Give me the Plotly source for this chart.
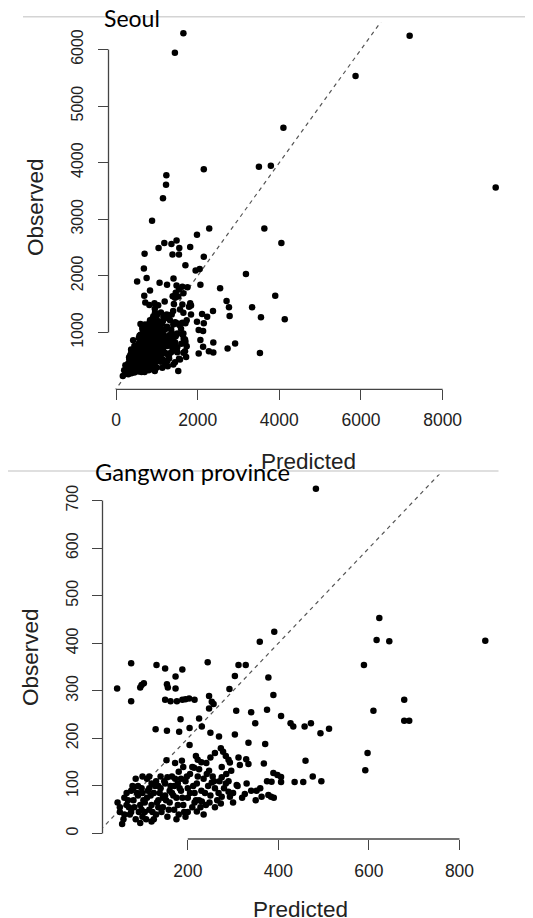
import plotly.graph_objects as go

# The page body has an 8px default margin: the figure is placed at (8, 8).
OFF = 8
W, H = 525, 910


def fx(p):
    return max(0.0, min(1.0, (p - OFF) / W))


def fy(p):
    return max(0.0, min(1.0, 1 - (p - OFF) / H))


# ---------------- Seoul (Predicted vs Observed) ----------------
seoul_pred_outer = [1650, 1442, 7192, 5867, 4100, 9300, 3500, 3792, 2150, 1233, 1225, 1150, 883, 2283, 3633,
                    4050, 1983, 1183, 1042, 1358, 1483, 1550, 1383, 1542, 1817, 700, 2150, 683, 1700, 1950,
                    2050, 750, 517, 1067, 1250, 1408, 1483, 2067, 3183, 2550, 1750, 833, 692, 3900, 2708,
                    2767, 3333, 2375, 2783, 3550, 4133, 2233, 2108, 1983, 2150, 1700, 2133, 2025, 2067, 2383,
                    2917, 2733, 2133, 2275, 2383, 2025, 3525, 1717, 1525, 167, 1650, 1700, 650, 1650, 1817,
                    1525, 1417, 1192, 942, 817, 1033, 717]
seoul_obs_outer = [6284, 5940, 6243, 5532, 4614, 3559, 3926, 3944, 3885, 3779, 3607, 3370, 2973, 2837, 2837,
                   2582, 2724, 2582, 2493, 2564, 2623, 2493, 2375, 2375, 2511, 2392, 2339, 2131, 2185, 2096,
                   2120, 1960, 1901, 1877, 1841, 1954, 1829, 1841, 2031, 1782, 1800, 1741, 1646, 1646, 1557,
                   1444, 1444, 1379, 1291, 1267, 1231, 1279, 1326, 1190, 1160, 1160, 1023, 1041, 864, 822,
                   804, 716, 745, 668, 645, 626, 638, 567, 318, 229, 982, 834, 935, 1693, 1515,
                   1634, 1503, 1545, 1515, 1486, 1480, 1527]

seoul_pred_fringe = [1241, 1364, 1159, 1323, 1404, 1511, 1592, 1625, 1657, 914, 833, 955, 710, 645, 1731,
                     1650, 1543, 1404, 1266, 1135, 1486, 1404, 1462, 1364, 1282, 1690, 1690, 1625, 1731, 1837,
                     1650, 1567, 1625, 1445, 1567, 1445, 1837, 1788, 1388, 1462, 1543, 1625]
seoul_obs_fringe = [1316, 1316, 1276, 1216, 1140, 1157, 1064, 963, 887, 1286, 1216, 1346, 1140, 1081, 756,
                    639, 533, 433, 403, 374, 710, 845, 933, 993, 922, 668, 875, 1169, 1216, 1316,
                    1346, 1405, 1493, 474, 521, 1611, 1475, 1452, 1640, 1700, 1758, 1806]

seoul_pred_core = [250, 300, 350, 400, 450, 500, 550, 600, 650, 700, 750, 800, 900, 1000, 380, 280,
                   300, 350, 400, 450, 500, 550, 600, 650, 700, 750, 800, 850, 900, 950, 1000, 1100, 1200, 1300, 420,
                   350, 400, 450, 500, 550, 600, 650, 700, 750, 800, 850, 900, 950, 1000, 1050, 1100, 1150, 1200,
                   1300, 1400, 1500, 480,
                   450, 500, 550, 600, 650, 700, 750, 800, 850, 900, 950, 1000, 1050, 1100, 1150, 1200, 1250,
                   1300, 1400, 1500, 1600, 600,
                   560, 600, 650, 700, 750, 800, 850, 900, 950, 1000, 1050, 1100, 1150, 1200, 1300, 1400, 1500, 700,
                   650, 700, 750, 800, 850, 900, 950, 1000, 1050, 1100, 1150, 1250, 1350, 1450, 1550, 1200, 900,
                   1000, 1300, 1400, 1100, 950, 200, 230, 320, 370, 420, 600,
                   275, 325, 375, 425, 475, 525, 575, 625, 675, 725, 850, 950,
                   325, 375, 425, 475, 525, 575, 625, 675, 725, 775, 825, 875, 925, 1050, 1150, 1250,
                   375, 425, 475, 525, 575, 625, 675, 725, 775, 825, 875, 925, 975, 1025, 1075, 1125, 1250, 1350,
                   525, 575, 625, 675, 725, 775, 825, 875, 925, 975, 1025, 1075, 1125, 1175, 1350, 1450,
                   575, 625, 675, 725, 775, 825, 875, 925, 975, 1025, 1075, 1125, 1250, 1350,
                   675, 725, 775, 825, 875, 925, 975, 1025, 1075, 1125, 1200]
seoul_obs_core = [300, 260, 380, 330, 290, 350, 310, 380, 340, 300, 360, 330, 350, 380, 420, 390,
                  450, 500, 470, 520, 440, 480, 530, 460, 500, 450, 520, 470, 500, 450, 530, 480, 460, 540, 560,
                  600, 640, 580, 620, 680, 600, 650, 590, 690, 620, 660, 600, 680, 620, 660, 600, 690, 640,
                  600, 680, 650, 700,
                  760, 720, 800, 740, 820, 760, 800, 730, 840, 780, 720, 810, 760, 840, 730, 800, 760,
                  820, 780, 740, 800, 850,
                  900, 960, 880, 930, 990, 870, 950, 900, 980, 870, 940, 900, 970, 880, 950, 900, 980, 1000,
                  1050, 1120, 1080, 1150, 1020, 1100, 1180, 1060, 1130, 1020, 1200, 1100, 1050, 1180, 1130, 1250, 1250,
                  1300, 1300, 1380, 1350, 1420, 330, 420, 560, 700, 860, 1150,
                  350, 320, 280, 370, 320, 400, 360, 300, 420, 340, 390, 320,
                  520, 440, 500, 480, 560, 440, 500, 550, 470, 540, 490, 540, 480, 500, 520, 490,
                  650, 610, 660, 590, 640, 700, 620, 660, 610, 700, 630, 700, 640, 590, 700, 650, 620, 650,
                  760, 780, 720, 790, 740, 830, 760, 800, 840, 760, 850, 790, 780, 830, 760, 820,
                  940, 900, 970, 880, 920, 990, 880, 940, 900, 990, 880, 950, 920, 880,
                  1080, 1050, 1130, 1070, 1160, 1040, 1110, 1200, 1080, 1150, 1050]

seoul_xticks = [0, 2000, 4000, 6000, 8000]
seoul_yticks = [1000, 2000, 3000, 4000, 5000, 6000]

# ---------------- Gangwon province ----------------
gw_pred_outer = [483, 391, 359, 623, 617, 645, 857, 589, 678, 610, 678, 689, 406, 427, 433, 458, 472, 493,
                 512, 597, 592, 460, 389, 398, 406, 385, 406, 436, 455, 476, 495, 384]
gw_obs_outer = [725, 424, 403, 453, 407, 404, 405, 354, 281, 258, 237, 237, 247, 232, 225, 225, 232, 211,
                220, 169, 133, 153, 127, 123, 119, 109, 108, 108, 108, 120, 110, 77]

gw_pred_mid = [75, 131, 150, 188, 244, 312, 328, 173, 44, 98, 103, 95, 154, 156, 173, 75, 150, 162, 176, 188,
               195, 203, 215, 247, 253, 257, 247, 292, 304, 378, 389, 307, 340, 375, 349, 184, 225, 231, 129, 154,
               181, 204, 250, 269, 304, 204, 334, 371, 153, 172, 187, 218, 222, 260, 273, 278, 284, 290, 293, 312,
               329, 334, 315, 368, 214, 241, 247, 296,
               275, 284, 308, 326, 352, 363, 378, 290, 275, 293, 273, 253, 231, 220]
gw_obs_mid = [358, 354, 347, 345, 360, 354, 354, 330, 305, 312, 316, 307, 314, 307, 305, 278, 281, 278, 278, 281,
              282, 284, 281, 289, 277, 272, 263, 304, 331, 328, 291, 258, 255, 260, 232, 240, 242, 225, 219, 216,
              214, 222, 212, 204, 208, 186, 191, 188, 154, 148, 153, 163, 155, 169, 179, 172, 163, 155, 149, 160,
              156, 146, 144, 147, 138, 148, 132, 132,
              118, 105, 102, 83, 90, 77, 81, 88, 77, 77, 63, 107, 67, 46]

gw_pred_core = [45, 50, 55, 60, 65, 70, 75, 80, 85, 90, 95, 95, 100, 105, 110, 110, 115, 120, 120, 125, 130, 130,
                135, 140, 140, 145, 150, 150, 155, 160, 160, 165, 170, 170, 175, 180, 180, 185, 190, 195, 200,
                200, 205, 210, 215, 220, 225, 225, 230, 235, 240, 245, 250, 255, 260, 265, 270, 85, 100, 115, 125,
                65, 75, 90, 135, 155, 175, 190, 210, 215, 235, 200, 100, 120, 145, 165, 185, 105, 60, 80,
                280, 290, 300, 310, 320, 330, 340, 350, 360, 375, 390, 300, 260, 230, 250, 275, 285,
                50, 58, 68, 72, 78, 82, 88, 92, 98, 102, 108, 112, 118, 122, 128, 132, 138, 142, 148, 152,
                158, 162, 168, 172, 178, 182, 188, 192, 198, 205, 212, 218, 222, 228, 238, 242, 248, 258, 268,
                98, 115, 135, 178, 195]
gw_obs_core = [65, 45, 20, 40, 85, 55, 90, 70, 30, 100, 60, 22, 85, 45, 75, 115, 95, 60, 25, 85, 110, 40,
               70, 95, 120, 55, 80, 105, 35, 90, 65, 120, 50, 100, 75, 40, 130, 90, 60, 110, 75,
               95, 125, 55, 85, 105, 70, 135, 90, 115, 60, 100, 80, 120, 95, 70, 110, 115, 35, 50, 30,
               60, 45, 80, 100, 118, 30, 140, 140, 65, 40, 45, 120, 105, 75, 85, 115, 65, 75, 95,
               95, 110, 85, 100, 75, 105, 90, 70, 95, 110, 75, 65, 55, 150, 160, 140, 125,
               55, 30, 70, 40, 100, 55, 85, 45, 95, 70, 30, 90, 80, 45, 100, 65, 85, 45, 110, 70,
               50, 100, 80, 115, 60, 95, 75, 45, 120, 85, 100, 70, 120, 55, 85, 125, 65, 110, 85,
               50, 120, 55, 105, 35]

gw_xticks = [200, 400, 600, 800]
gw_yticks = [0, 100, 200, 300, 400, 500, 600, 700]

AX = "#444444"
TXT = "#222222"
TICKFONT = "Liberation Sans, Arial, sans-serif"

fig = go.Figure()

# reference 1:1 lines
fig.add_trace(go.Scatter(x=[-2000, 20000], y=[-2000, 20000], mode="lines",
                         line=dict(color="#555555", width=1.2, dash="4px,4px"),
                         xaxis="x", yaxis="y", hoverinfo="skip"))
fig.add_trace(go.Scatter(x=seoul_pred_outer + seoul_pred_fringe + seoul_pred_core,
                         y=seoul_obs_outer + seoul_obs_fringe + seoul_obs_core,
                         mode="markers", marker=dict(color="black", size=6.5, line=dict(width=0)),
                         xaxis="x", yaxis="y"))
fig.add_trace(go.Scatter(x=[-200, 2000], y=[-200, 2000], mode="lines",
                         line=dict(color="#555555", width=1.2, dash="4px,4px"),
                         xaxis="x2", yaxis="y2", hoverinfo="skip"))
fig.add_trace(go.Scatter(x=gw_pred_outer + gw_pred_mid + gw_pred_core,
                         y=gw_obs_outer + gw_obs_mid + gw_obs_core,
                         mode="markers", marker=dict(color="black", size=6.5, line=dict(width=0)),
                         xaxis="x2", yaxis="y2"))


def xax(domain, rng, ticks, anchor, standoff):
    return dict(domain=domain, range=rng, anchor=anchor, tickmode="array", tickvals=ticks,
                ticktext=[str(t) for t in ticks], ticks="outside", ticklen=10, tickwidth=1.2,
                tickcolor=AX, showline=False, showgrid=False, zeroline=False,
                tickfont=dict(family=TICKFONT, size=17.5, color=TXT), ticklabelstandoff=standoff)


def yax(domain, rng, ticks, anchor, standoff):
    return dict(domain=domain, range=rng, anchor=anchor, tickmode="array", tickvals=ticks,
                ticktext=[str(t) for t in ticks], ticks="outside", ticklen=10, tickwidth=1.2,
                tickcolor=AX, showline=False, showgrid=False, zeroline=False, tickangle=-90,
                tickfont=dict(family=TICKFONT, size=16, color=TXT), ticklabelstandoff=standoff)


layout = dict(
    width=W, height=H, margin=dict(l=0, r=0, t=0, b=0),
    paper_bgcolor="white", plot_bgcolor="white", showlegend=False,
    xaxis=xax([fx(108.5), fx(510.4)], [-184, 9660], seoul_xticks, "y", 5),
    yaxis=yax([fy(389.3), fy(22.6)], [-5, 6474], seoul_yticks, "x", 8),
    xaxis2=xax([fx(102.5), fx(500.0)], [11.7, 889.5], gw_xticks, "y2", 6),
    yaxis2=yax([fy(839.0), fy(474.4)], [-11.6, 755], gw_yticks, "x2", 7),
)

shapes = [
    # R-style axis lines spanning tick range only
    dict(type="line", xref="x domain", yref="y", x0=0, x1=0, y0=seoul_yticks[0], y1=seoul_yticks[-1],
         line=dict(color=AX, width=1.3)),
    dict(type="line", xref="x", yref="y domain", x0=seoul_xticks[0], x1=seoul_xticks[-1], y0=0, y1=0,
         line=dict(color=AX, width=1.3)),
    dict(type="line", xref="x2 domain", yref="y2", x0=0, x1=0, y0=gw_yticks[0], y1=gw_yticks[-1],
         line=dict(color=AX, width=1.3)),
    dict(type="line", xref="x2", yref="y2 domain", x0=gw_xticks[0], x1=gw_xticks[-1], y0=0, y1=0,
         line=dict(color=AX, width=1.3)),
    # light grey separator lines
    dict(type="line", xref="paper", yref="paper", x0=fx(23), x1=1, y0=fy(16.7), y1=fy(16.7),
         line=dict(color="#d4d4d4", width=1.5)),
    dict(type="line", xref="paper", yref="paper", x0=fx(5), x1=fx(498.5), y0=fy(471), y1=fy(471),
         line=dict(color="#d4d4d4", width=1.5)),
]

LAB = dict(family=TICKFONT, size=22.5, color=TXT)
annotations = [
    dict(text="Seoul", x=fx(101.5), y=fy(18.5), xref="paper", yref="paper", xanchor="left",
         yanchor="middle", showarrow=False, font=dict(family="Lato, sans-serif", size=23, color="black")),
    dict(text="Gangwon province", x=fx(92.5), y=fy(472.5), xref="paper", yref="paper", xanchor="left",
         yanchor="middle", showarrow=False, font=dict(family="Lato, sans-serif", size=23.7, color="black")),
    dict(text="Observed", x=fx(35.3), y=fy(206.7), xref="paper", yref="paper", xanchor="center",
         yanchor="middle", showarrow=False, textangle=-90, font=LAB),
    dict(text="Predicted", x=fx(308), y=fy(461.7), xref="paper", yref="paper", xanchor="center",
         yanchor="middle", showarrow=False, font=LAB),
    dict(text="Observed", x=fx(30.6), y=fy(657.5), xref="paper", yref="paper", xanchor="center",
         yanchor="middle", showarrow=False, textangle=-90, font=LAB),
    dict(text="Predicted", x=fx(300), y=fy(909), xref="paper", yref="paper", xanchor="center",
         yanchor="middle", showarrow=False, font=LAB),
]

fig.update_layout(**layout, shapes=shapes, annotations=annotations)
fig.write_html("out.html")
